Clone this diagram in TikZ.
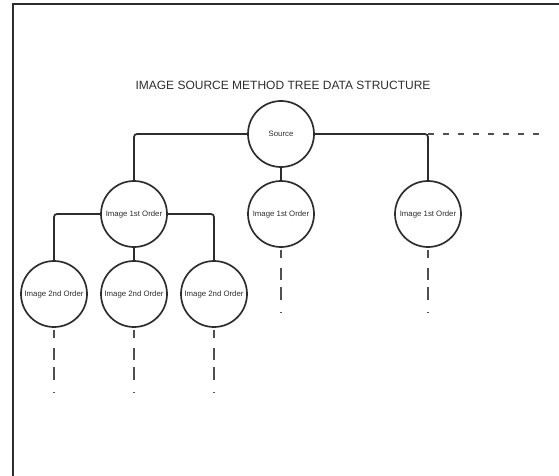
\documentclass[tikz,border=0pt]{standalone}
\usepackage{fontspec}
\setmainfont{Liberation Sans}
\usetikzlibrary{positioning}
\definecolor{ink}{RGB}{45,45,45}
\definecolor{trailc}{RGB}{80,80,80}
\tikzset{
  imgnode/.style={circle,draw=ink,line width=1.7pt,minimum size=66pt,
    inner sep=0pt,font=\fontsize{7.8}{9}\selectfont,text=ink},
  link/.style={draw=ink,line width=1.7pt,rounded corners=3pt},
  trail/.style={draw=trailc,line width=1.7pt,
    dash pattern=on 8pt off 10pt on 12pt off 7pt on 13pt off 12pt on 1.5pt off 30pt},
  farline/.style={draw=trailc,line width=1.7pt,dash pattern=on 6pt off 9pt},
  frame/.style={draw=ink,line width=2pt},
}
\begin{document}
\begin{tikzpicture}[x=1pt,y=1pt,on grid,node distance=80pt]
  \useasboundingbox (0,0) rectangle (559,-476);
  \draw[frame] (12.5,-476) -- (12.5,-4.5) -- (559,-4.5);
  \node[font=\fontsize{12}{14}\selectfont,text=ink] (title) at (283,-85)
    {IMAGE SOURCE METHOD TREE DATA STRUCTURE};
  % tree
  \node[imgnode] (src) at (281,-134) {Source};
  \node[imgnode,below=of src] (mid) {Image 1st Order};
  \node[imgnode,left=147pt of mid] (left) {Image 1st Order};
  \node[imgnode,right=147pt of mid] (right) {Image 1st Order};
  \node[imgnode,below=of left] (s2) {Image 2nd Order};
  \node[imgnode,left=of s2] (s1) {Image 2nd Order};
  \node[imgnode,right=of s2] (s3) {Image 2nd Order};
  \coordinate (rc) at (right.north |- src.east);
  \coordinate (far) at (541,-134);
  \draw[link] (src.west) -| (left.north);
  \draw[link] (src.east) -| (right.north);
  \draw[link] (src) -- (mid);
  \draw[farline] (rc) -- (far);
  \draw[link] (left.west) -| (s1.north);
  \draw[link] (left.east) -| (s3.north);
  \draw[link] (left) -- (s2);
  \foreach \n in {mid,right,s1,s2,s3}
    \draw[trail] ([yshift=-2pt]\n.south) -- ++(0,-64);
\end{tikzpicture}
\end{document}
